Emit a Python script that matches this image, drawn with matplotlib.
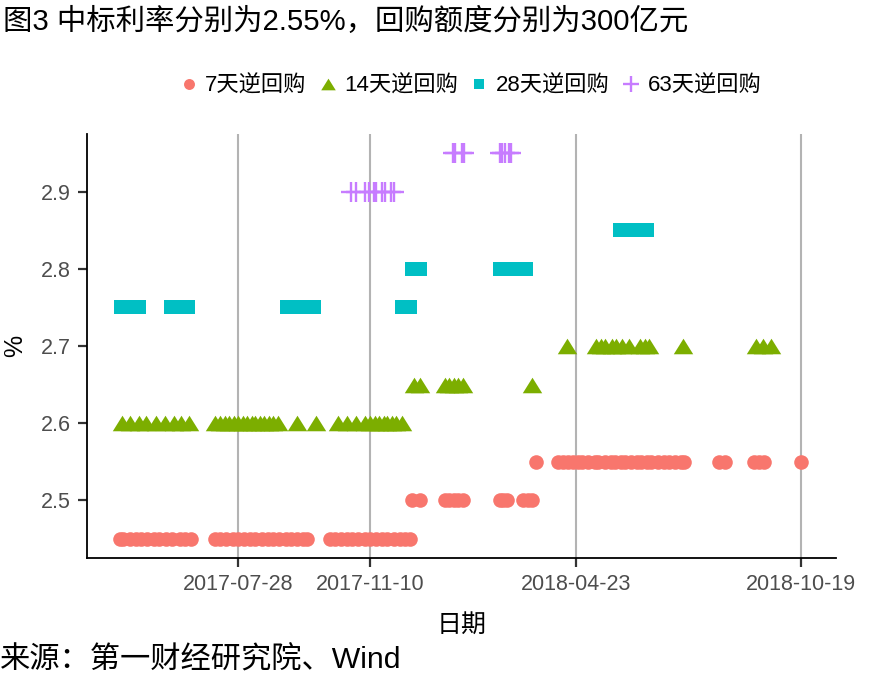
import pandas as pd
import matplotlib
matplotlib.use("Agg")
import matplotlib.pyplot as plt

plt.rcParams['font.family'] = ['Liberation Sans', 'Noto Sans CJK SC', 'DejaVu Sans']

# 7天逆回购
d7_dates = ['2017-04-25', '2017-04-28', '2017-05-03', '2017-05-08', '2017-05-12', '2017-05-17',
            '2017-05-22', '2017-05-26', '2017-06-01', '2017-06-06', '2017-06-12', '2017-06-16',
            '2017-06-21',
            '2017-07-10', '2017-07-14', '2017-07-19', '2017-07-24', '2017-07-28', '2017-08-02',
            '2017-08-07', '2017-08-11', '2017-08-16', '2017-08-21', '2017-08-25', '2017-08-30',
            '2017-09-04', '2017-09-08', '2017-09-13', '2017-09-18', '2017-09-21',
            '2017-10-09', '2017-10-13', '2017-10-18', '2017-10-23', '2017-10-27', '2017-11-01',
            '2017-11-06', '2017-11-10', '2017-11-15', '2017-11-20', '2017-11-24', '2017-11-29',
            '2017-12-04', '2017-12-08', '2017-12-12',
            '2017-12-14', '2017-12-20',
            '2018-01-09', '2018-01-12', '2018-01-16', '2018-01-19', '2018-01-23',
            '2018-02-22', '2018-02-24', '2018-02-27', '2018-03-12', '2018-03-16', '2018-03-19',
            '2018-03-22',
            '2018-04-09', '2018-04-13', '2018-04-17', '2018-04-21', '2018-04-25', '2018-04-28',
            '2018-05-03', '2018-05-08', '2018-05-11', '2018-05-16', '2018-05-21', '2018-05-24',
            '2018-05-29', '2018-06-01', '2018-06-06', '2018-06-11', '2018-06-14', '2018-06-19',
            '2018-06-22', '2018-06-27', '2018-07-02', '2018-07-06', '2018-07-11', '2018-07-16',
            '2018-07-18',
            '2018-08-15', '2018-08-20',
            '2018-09-12', '2018-09-16', '2018-09-20',
            '2018-10-19']
d7_rates = [2.45] * 45 + [2.50] * 13 + [2.55] * 32

# 14天逆回购
d14_dates = ['2017-04-27', '2017-05-03', '2017-05-10', '2017-05-16', '2017-05-24', '2017-05-31',
             '2017-06-07', '2017-06-13', '2017-06-19',
             '2017-07-10', '2017-07-14', '2017-07-18', '2017-07-21', '2017-07-25', '2017-07-28',
             '2017-08-01', '2017-08-04', '2017-08-08', '2017-08-11', '2017-08-15', '2017-08-18',
             '2017-08-22', '2017-08-25', '2017-08-29', '2017-09-13', '2017-09-28',
             '2017-10-16', '2017-10-23', '2017-10-30', '2017-11-06', '2017-11-10', '2017-11-14',
             '2017-11-17', '2017-11-21', '2017-11-24', '2017-11-28', '2017-12-01', '2017-12-06',
             '2017-12-15', '2017-12-20',
             '2018-01-09', '2018-01-12', '2018-01-16', '2018-01-19', '2018-01-23',
             '2018-03-19',
             '2018-04-16',
             '2018-05-09', '2018-05-13', '2018-05-16', '2018-05-22', '2018-05-25', '2018-05-30',
             '2018-06-04', '2018-06-13', '2018-06-17', '2018-06-20',
             '2018-07-17',
             '2018-09-13', '2018-09-19', '2018-09-25']
d14_rates = [2.60] * 38 + [2.65] * 8 + [2.70] * 15

# 28天逆回购
d28_dates = ['2017-04-26', '2017-05-03', '2017-05-10',
             '2017-06-05', '2017-06-12', '2017-06-18',
             '2017-09-05', '2017-09-12', '2017-09-19', '2017-09-27',
             '2017-12-06', '2017-12-12',
             '2017-12-14', '2017-12-20',
             '2018-02-22', '2018-02-28', '2018-03-07', '2018-03-14',
             '2018-05-28', '2018-06-04', '2018-06-11', '2018-06-19']
d28_rates = [2.75] * 12 + [2.80] * 6 + [2.85] * 4

# 63天逆回购
d63_dates = ['2017-10-26', '2017-10-30', '2017-11-06', '2017-11-09', '2017-11-13', '2017-11-15',
             '2017-11-20', '2017-11-22', '2017-11-27', '2017-11-29',
             '2018-01-15', '2018-01-17', '2018-01-22', '2018-01-24',
             '2018-02-22', '2018-02-23', '2018-02-26', '2018-03-01', '2018-03-02']
d63_rates = [2.90] * 10 + [2.95] * 9

tick_dates = ['2017-07-28', '2017-11-10', '2018-04-23', '2018-10-19']
y_ticks = [2.5, 2.6, 2.7, 2.8, 2.9]

fig = plt.figure(figsize=(8.85, 6.88), dpi=100)
ax = fig.add_axes([87 / 885, 1 - 558 / 688, 749 / 885, 424 / 688])

ax.plot(pd.to_datetime(d7_dates), d7_rates, 'o', color='#F8766D', markersize=10.5,
        markeredgewidth=0, label='7天逆回购')
tri = [(0, 0.8), (-1, -0.8), (1, -0.8), (0, 0.8)]
ax.plot(pd.to_datetime(d14_dates), d14_rates, linestyle='none', marker=tri, color='#7CAE00',
        markersize=14, markeredgewidth=0, label='14天逆回购')
ax.plot(pd.to_datetime(d28_dates), d28_rates, 's', color='#00BFC4', markersize=10.2,
        markeredgewidth=0, label='28天逆回购')
ax.plot(pd.to_datetime(d63_dates), d63_rates, '+', color='#C77CFF', markersize=15,
        markeredgewidth=1.7, label='63天逆回购')

ax.set_xlim(pd.Timestamp('2017-03-30'), pd.Timestamp('2018-11-16'))
ax.set_ylim(2.425, 2.975)
ax.set_xticks(pd.to_datetime(tick_dates))
ax.set_xticklabels(tick_dates)
ax.set_yticks(y_ticks)
ax.set_yticklabels(['2.5', '2.6', '2.7', '2.8', '2.9'])
ax.grid(axis='x', color='#b3b3b3', linewidth=1.5)
ax.set_axisbelow(True)

for s in ['top', 'right']:
    ax.spines[s].set_visible(False)
for s in ['left', 'bottom']:
    ax.spines[s].set_linewidth(1.3)
    ax.spines[s].set_color('black')
ax.tick_params(length=6.5, width=1.6, color='#333333', labelsize=15.5,
               labelcolor='#4D4D4D', pad=5)

ax.set_xlabel('日期', fontsize=18, labelpad=13)
ax.set_ylabel('%', fontsize=18, labelpad=10)

fig.legend(loc='center', bbox_to_anchor=(470 / 885, 1 - 86 / 688), ncol=4, frameon=False,
           fontsize=16, handlelength=0.9, handletextpad=0.3, columnspacing=0.5,
           markerscale=0.75)

fig.text(3 / 885, 1 - 22 / 688, '图3 中标利率分别为2.55%，回购额度分别为300亿元',
         fontsize=21.2, va='center', ha='left')
fig.text(0 / 885, 1 - 660 / 688, '来源：第一财经研究院、Wind', fontsize=21.8,
         va='center', ha='left')

fig.savefig('out.png', dpi=100)
